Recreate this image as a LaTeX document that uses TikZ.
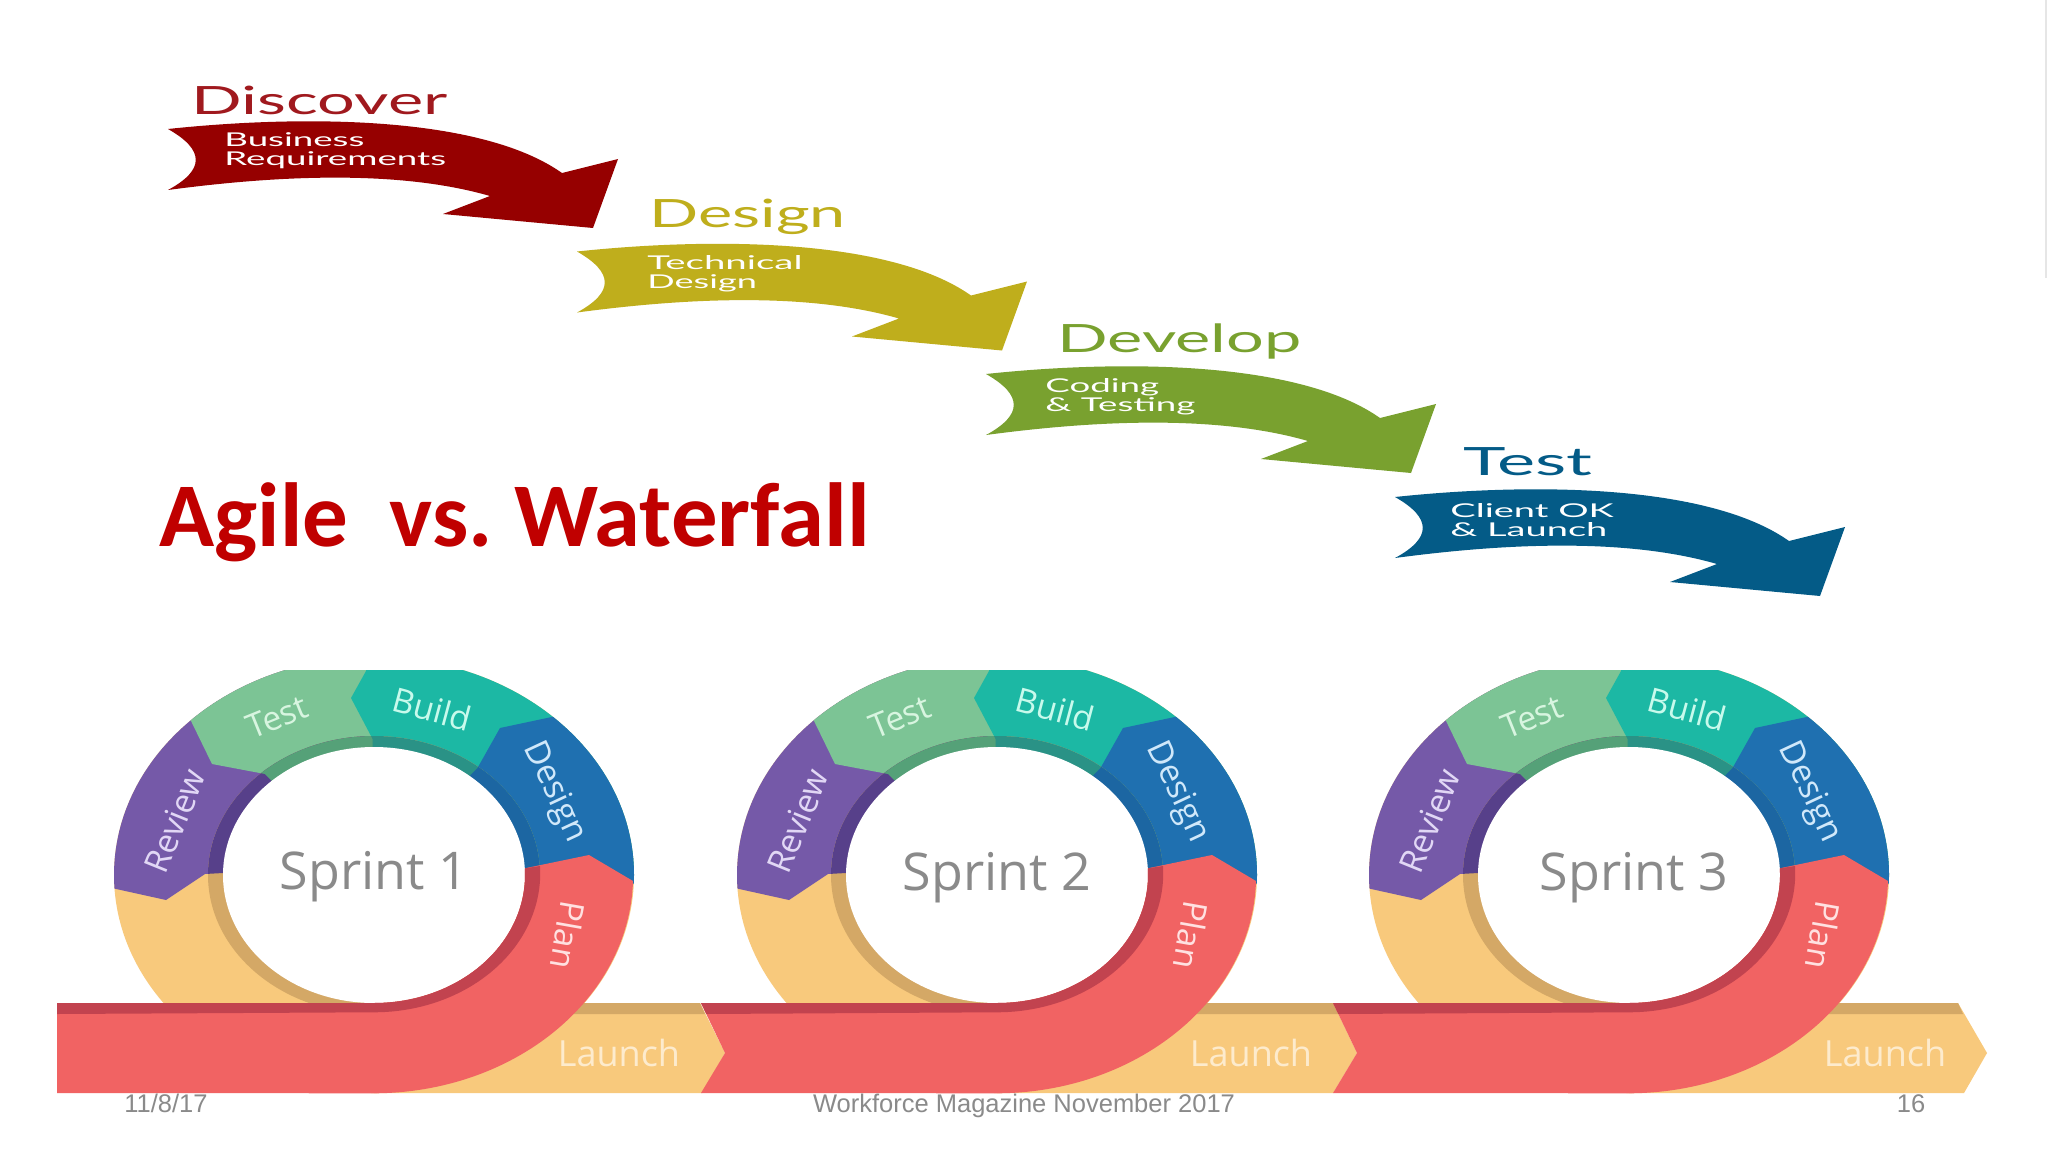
\documentclass[tikz,border=0pt]{standalone}
\usepackage{fontspec}
\usepackage{graphicx}
\setmainfont{Liberation Sans}
\newfontfamily\lat{Lato}
\newfontfamily\ope{Open Sans}
\newfontfamily\car{Carlito}
\definecolor{redA}{HTML}{F16363}\definecolor{redD}{HTML}{C2434F}
\definecolor{yelA}{HTML}{F8C97C}\definecolor{yelD}{HTML}{D4A866}
\definecolor{revA}{HTML}{7559A8}\definecolor{revD}{HTML}{57408A}
\definecolor{tstA}{HTML}{7CC495}\definecolor{tstD}{HTML}{55A178}
\definecolor{bldA}{HTML}{1CB8A4}\definecolor{bldD}{HTML}{2A9286}
\definecolor{desA}{HTML}{1F70B0}\definecolor{desD}{HTML}{1C66A2}
\definecolor{footg}{HTML}{8A8A8A}
\definecolor{wfR}{HTML}{960000}\definecolor{wfRt}{HTML}{A0191E}
\definecolor{wfY}{HTML}{BFAE1C}\definecolor{wfG}{HTML}{79A12F}\definecolor{wfB}{HTML}{045B87}
\definecolor{titleR}{HTML}{C00000}
\definecolor{lbRev}{HTML}{E1D7F5}\definecolor{lbTst}{HTML}{D8F5E0}\definecolor{lbBld}{HTML}{C8FAEC}
\definecolor{lbDes}{HTML}{D0E8FA}\definecolor{lbPln}{HTML}{FFE1E1}\definecolor{lbLau}{HTML}{FDEBCD}
\definecolor{edgeg}{HTML}{E6E6E6}
\newcommand\wid[2]{\scalebox{#1}[1]{#2}}
\newcommand\polyRev{(-260,-13)--(-294,-6)--(-208,-25)--(-169,1)--(-151,2)--(0,0)--(0,274)--(-294,274)--cycle}
\newcommand\polyTst{(-214,224)--(-204,197)--(-182,152)--(-162,111)--(-109,101)--(-102,94)--(0,0)--(0,274)--(-214,274)--cycle}
\newcommand\polyBld{(-8,274)--(-8,204)--(-23,177)--(-1.4,136)--(-1.4,125)--(0,0)--(300,0)--(300,274)--cycle}
\newcommand\polyDes{(226,168)--(173,157)--(126,147)--(103.5,107)--(0,0)--(300,-10)--(300,168)--cycle}
\newcommand\wfall[1]{\fill[#1] (168,-129) .. controls (300,-115) and (480,-115) .. (562,-173) -- (618,-159) -- (593,-228) -- (443,-214) -- (490,-196) .. controls (400,-170) and (280,-175) .. (168,-190) .. controls (205,-170) and (205,-150) .. (168,-129) -- cycle;}
\tikzset{
  ringlabel/.style={font=\ope\fontsize{16.8}{17}\selectfont,text=#1,inner sep=0pt},
  wtitle/.style={font=\lat\fontsize{19.5}{20}\selectfont,text=#1,inner sep=0pt,anchor=west},
  wsub/.style={font=\lat\fontsize{9.5}{9.3}\selectfont,text=#1,inner sep=0pt,anchor=west,align=left},
  foot/.style={font=\fontsize{12.75}{13}\selectfont,text=footg,inner sep=0pt,anchor=base}
}
\begin{document}
\begin{tikzpicture}[x=0.5pt,y=0.5pt]
\useasboundingbox (0,0) rectangle (2048,-1155);
\fill[white] (0,0) rectangle (2048,-1155);
\draw[edgeg,line width=0.8pt] (2046,0) -- (2046,-278);
% waterfall arrows
\wfall{wfR}
\begin{scope}[shift={(409,-122.5)}]\wfall{wfY}\end{scope}
\begin{scope}[shift={(818,-245)}]\wfall{wfG}\end{scope}
\begin{scope}[shift={(1227,-368)}]\wfall{wfB}\end{scope}
\node[wtitle=wfRt] (t1) at (191,-100) {\wid{1.71}{Discover}};
\node[wtitle=wfY] (t2) at (649,-217) {\wid{1.66}{Design}};
\node[wtitle=wfG] (t3) at (1057,-341) {\wid{1.71}{Develop}};
\node[wtitle=wfB] (t4) at (1463,-462) {\wid{1.85}{Test}};
\node[wsub=white] (s1) at (224,-151) {\wid{1.93}{Business}\\\wid{1.93}{Requirements}};
\node[wsub=white] (s2) at (647,-274) {\wid{2.02}{Technical}\\\wid{1.9}{Design}};
\node[wsub=white] (s3) at (1045,-397) {\wid{1.93}{Coding}\\\wid{1.93}{\& Testing}};
\node[wsub=white] (s4) at (1450,-520) {\wid{2.0}{Client OK}\\\wid{2.0}{\& Launch}};
\node[font=\car\bfseries\fontsize{45.5}{46}\selectfont,text=titleR,anchor=west,inner sep=0pt] (title) at (159,-522) {Agile\ \ vs.\hspace{-3pt} \wid{1.02}{Waterfall}};
% sprints
\foreach \cx/\lbl/\L/\N/\tr/\tip/\br/\lx/\tx/\ty in {374/1/-317/-317/326/351/328/245/0/-1.5, 997/2/-296/-272/336/360/336/254/0/-2.5, 1629/3/-296/-272/329/358/335/256/5/-2.5}{
\begin{scope}[shift={(\cx,-875)}]
  % ring
  \begin{scope}
    \clip (-300,205) rectangle (300,-230);
    \clip (0,0) ellipse [x radius=130pt,y radius=109pt];
    \fill[yelA] (-300,300) rectangle (300,-300);
    \fill[revA] \polyRev; \fill[tstA] \polyTst; \fill[bldA] \polyBld; \fill[desA] \polyDes;
    \clip (0,0) ellipse [x radius=83pt,y radius=69.5pt];
    \fill[yelD] (-300,300) rectangle (300,-300);
    \fill[revD] \polyRev; \fill[tstD] \polyTst; \fill[bldD] \polyBld; \fill[desD] \polyDes;
  \end{scope}
  \fill[white] (0,0) ellipse [x radius=75.5pt,y radius=64pt];
  % launch ribbon
  \fill[yelA] (0,-128) -- (\tr,-128) -- (\tip,-178) -- (\br,-218) -- (0,-218) -- cycle;
  \fill[yelD] (0,-128) -- (\tr,-128) -- ({\tr+5},-139) -- (0,-139) -- cycle;
  % plan ribbon
  \fill[redA] (\L,-128) -- (0,-128) arc[start angle=-90,end angle=3,x radius=75.5pt,y radius=64pt] -- (215,20) -- (259,-6)
     arc[start angle=-1.5,end angle=-90,x radius=130pt,y radius=109pt] -- (\L,-218) -- (\N,-178) -- cycle;
  \fill[redD] (\L,-128) -- (0,-128) arc[start angle=-90,end angle=3,x radius=75.5pt,y radius=64pt] -- (166,9)
     arc[start angle=3,end angle=-90,x radius=83pt,y radius=69.5pt] -- ({\L+(\N-(\L))*0.22},-139) -- cycle;
  % labels
  \node[font=\ope\fontsize{26}{26}\selectfont,text=footg,inner sep=0pt] (sp\lbl) at (\tx,\ty) {Sprint \lbl};
  \node[ringlabel=lbRev,rotate=68] (rev\lbl) at (-199,54) {Review};
  \node[ringlabel=lbTst,rotate=22] (tst\lbl) at (-97,158) {Test};
  \node[ringlabel=lbBld,rotate=-15] (bld\lbl) at (58,166) {Build};
  \node[ringlabel=lbDes,rotate=-65] (des\lbl) at (180,83) {Design};
  \node[ringlabel=lbPln,rotate=-100] (pln\lbl) at (194,-60) {Plan};
  \node[ringlabel=lbLau,font=\ope\fontsize{18}{18}\selectfont] (lau\lbl) at (\lx,-178) {Launch};
\end{scope}
}
% footer
\node[foot] (f1) at (166,-1112) {11/8/17};
\node[foot] (f2) at (1024,-1112) {Workforce Magazine November 2017};
\node[foot] (f3) at (1911,-1112) {16};
\end{tikzpicture}
\end{document}
